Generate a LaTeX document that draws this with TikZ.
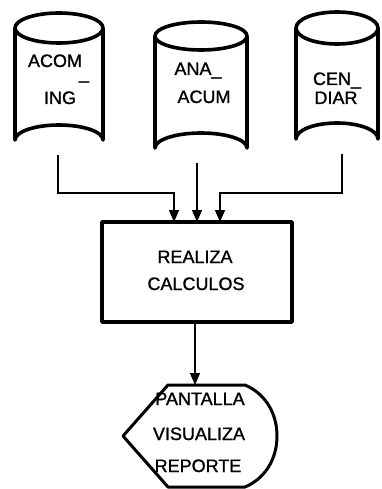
\documentclass[tikz,border=0pt]{standalone}
\usepackage{fontspec}
\setmainfont{Liberation Sans}
\newfontfamily\lblfont[FakeBold=1.2]{Liberation Sans}
\usetikzlibrary{arrows.meta}
\begin{document}
\begin{tikzpicture}[x=1pt,y=-1pt,
  thickline/.style={line width=3.6pt,line join=round},
  conn/.style={line width=1.3pt},
  arr/.style={conn,-{Triangle[width=10pt,length=12pt]}},
  lbl/.style={font=\lblfont\fontsize{18}{20}\selectfont,anchor=base,inner sep=0pt}]
\useasboundingbox (0,0) rectangle (381,489);
% cylinders
\draw[thickline] (59,28) ellipse [x radius=44,y radius=15];
\draw[thickline] (15,28) -- (15,140) arc[start angle=180,end angle=360,x radius=44,y radius=15] -- (103,28);
\draw[thickline] (201,36) ellipse [x radius=46,y radius=14];
\draw[thickline] (155,36) -- (155,148) arc[start angle=180,end angle=360,x radius=46,y radius=15] -- (247,36);
\draw[thickline] (337,28) ellipse [x radius=41,y radius=16];
\draw[thickline] (296,28) -- (296,139) arc[start angle=180,end angle=360,x radius=41,y radius=16] -- (378,28);
\coordinate (lbot) at (58,155);
\coordinate (mbot) at (197,163);
\coordinate (rbot) at (342,154.5);
% cylinder labels
\node[lbl] (acom) at (55,67) {ACOM};
\node[lbl] (us) at (84,79) {\_};
\node[lbl] (ing) at (60,104) {ING};
\node[lbl] (ana) at (198,75) {ANA\_};
\node[lbl] (acum) at (204,103) {ACUM};
\node[lbl] (cen) at (337,85) {CEN\_};
\node[lbl] (diar) at (336,104) {DIAR};
% process box
\draw[thickline] (102,222) rectangle (292,322);
\node[lbl] (realiza) at (195,263) {REALIZA};
\node[lbl] (calc) at (196,290) {CALCULOS};
\coordinate (a1) at (174,222);
\coordinate (a2) at (197,222);
\coordinate (a3) at (220,222);
\coordinate (e1) at (58,193);
\coordinate (e3) at (342,193);
\draw[arr] (lbot) -- (e1) -| (a1);
\draw[arr] (mbot) -- (a2);
\draw[arr] (rbot) -- (e3) -| (a3);
% display
\draw[line width=3pt,line join=round] (168,385) -- (245,385) .. controls (266,394) and (277,414) .. (277,436) .. controls (277,458) and (266,478) .. (245,487) -- (168,487) -- (123,436) -- cycle;
\coordinate (boxbot) at (195,322);
\coordinate (distop) at (195,385);
\draw[arr] (boxbot) -- (distop);
\node[lbl] (pant) at (200,405) {PANTALLA};
\node[lbl] (visu) at (199,440) {VISUALIZA};
\node[lbl] (repo) at (198,472) {REPORTE};
\end{tikzpicture}
\end{document}
